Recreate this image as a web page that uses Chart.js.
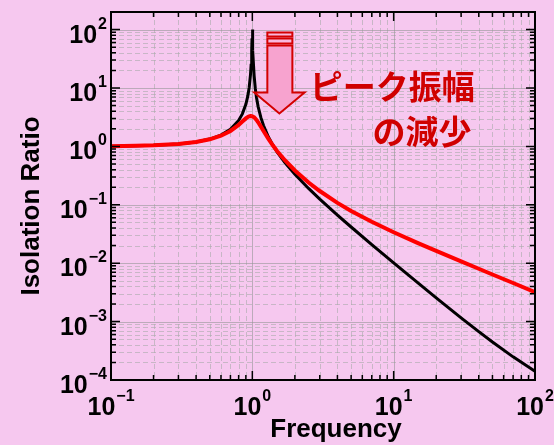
<!DOCTYPE html>
<html><head><meta charset="utf-8">
<script src="https://cdn.jsdelivr.net/npm/chart.js@4.4.0/dist/chart.umd.min.js"></script>
<style>html,body{margin:0;padding:0;background:#f6c8ef;}canvas{display:block}</style>
</head><body>
<canvas id="c" width="554" height="445"></canvas>
<script>
// ---- data ----
const frequency = [0.1,0.15,0.2,0.3,0.4,0.5,0.6,0.7,0.8,0.85,0.9,0.93,0.95,0.97,0.98,0.99,0.995,1,1.005,1.01,1.02,1.03,1.05,1.07,1.1,1.15,1.2,1.3,1.4,1.5,1.7,2,2.5,3,4,5,7,10,15,20,30,40,50,70,100];
const ratioLowDamping = [1.0101,1.023,1.0417,1.0989,1.1905,1.3333,1.5625,1.9608,2.7778,3.6036,5.263,7.40,10.21,16.70,24.5,45.0,71.0,100,70.4,44.5,24.0,16.19,9.71,6.90,4.76,3.10,2.273,1.449,1.042,0.800,0.529,0.3333,0.1905,0.125,0.0667,0.04167,0.02083,0.01015,0.004514,0.002556,0.001161,0.000674,0.000447,0.000249,0.0001414];
const ratioHighDamping = [1.0101,1.023,1.0415,1.0979,1.1865,1.3206,1.524,1.840,2.337,2.667,3.016,3.192,3.274,3.314,3.316,3.305,3.294,3.281,3.265,3.245,3.199,3.141,3.003,2.843,2.587,2.178,1.834,1.344,1.034,0.828,0.579,0.387,0.2411,0.1720,0.1079,0.0784,0.0511,0.0339,0.0219,0.0162,0.01074,0.00803,0.00641,0.00458,0.00320];
const xTickExponents = [-1,0,1,2];
const yTickExponents = [-4,-3,-2,-1,0,1,2];
const xAxisTitle = 'Frequency';
const yAxisTitle = 'Isolation Ratio';
const annotationLines = ['ピーク振幅','の減少'];

// ---- styles ----
const BG = '#f6c8ef';
const LATIN = '"Liberation Sans", Arial, sans-serif';
const CJK = '"Noto Sans CJK JP", sans-serif';

const bgPlugin = {
  id: 'bg',
  beforeDraw(chart) {
    const c = chart.ctx;
    c.save(); c.fillStyle = BG; c.fillRect(0, 0, chart.width, chart.height); c.restore();
  }
};

function decadeValues(minExp, maxExp, maxVal) {
  const out = [];
  for (let d = minExp; d <= maxExp; d++) {
    for (let m = 1; m <= 9; m++) {
      const v = m * Math.pow(10, d);
      if (v <= maxVal * 1.0001) out.push({ v, major: m === 1 });
    }
  }
  return out;
}

const gridPlugin = {
  id: 'logGrid',
  beforeDatasetsDraw(chart) {
    const c = chart.ctx, a = chart.chartArea, xs = chart.scales.x, ys = chart.scales.y;
    c.save();
    const xv = decadeValues(-1, 2, 100), yv = decadeValues(-4, 2, 200);
    for (const pass of [false, true]) {
      c.lineWidth = 1;
      c.strokeStyle = pass ? 'rgba(150,150,150,0.6)' : 'rgba(170,170,170,0.6)';
      c.setLineDash(pass ? [] : [5, 3]);
      for (const t of xv) {
        if (t.major !== pass) continue;
        const px = Math.round(xs.getPixelForValue(t.v)) + 0.5;
        c.beginPath(); c.moveTo(px, a.top); c.lineTo(px, a.bottom); c.stroke();
      }
      for (const t of yv) {
        if (t.major !== pass) continue;
        const py = Math.round(ys.getPixelForValue(t.v)) + 0.5;
        c.beginPath(); c.moveTo(a.left, py); c.lineTo(a.right, py); c.stroke();
      }
    }
    c.restore();
  }
};

function drawPow(c, exp, x, baseY, align) {
  const base = '10';
  const sup = exp < 0 ? '\u2212' + Math.abs(exp) : String(exp);
  c.font = 'bold 25px ' + LATIN;
  const wb = c.measureText(base).width;
  c.font = 'bold 16px ' + LATIN;
  const ws = c.measureText(sup).width;
  const total = wb + 1 + ws;
  const start = align === 'center' ? x - total / 2 : x - total;
  c.textAlign = 'left'; c.textBaseline = 'alphabetic'; c.fillStyle = '#000';
  c.font = 'bold 25px ' + LATIN;
  c.fillText(base, start, baseY);
  c.font = 'bold 16px ' + LATIN;
  c.fillText(sup, start + wb + 1, baseY - 14);
}

const framePlugin = {
  id: 'frame',
  afterDatasetsDraw(chart) {
    const c = chart.ctx, a = chart.chartArea, xs = chart.scales.x, ys = chart.scales.y;
    c.save();
    // ticks (inward, all four sides)
    c.strokeStyle = '#000'; c.lineWidth = 1.5; c.setLineDash([]);
    for (const t of decadeValues(-1, 2, 100)) {
      const px = xs.getPixelForValue(t.v), L = t.major ? 9 : 5;
      c.beginPath();
      c.moveTo(px, a.bottom); c.lineTo(px, a.bottom - L);
      c.moveTo(px, a.top); c.lineTo(px, a.top + L);
      c.stroke();
    }
    for (const t of decadeValues(-4, 2, 200)) {
      const py = ys.getPixelForValue(t.v), L = t.major ? 9 : 5;
      c.beginPath();
      c.moveTo(a.left, py); c.lineTo(a.left + L, py);
      c.moveTo(a.right, py); c.lineTo(a.right - L, py);
      c.stroke();
    }
    // box
    c.lineWidth = 2;
    c.strokeRect(a.left, a.top, a.right - a.left, a.bottom - a.top);

    // tick labels
    for (const e of xTickExponents) drawPow(c, e, xs.getPixelForValue(Math.pow(10, e)), 415, 'center');
    for (const e of yTickExponents) drawPow(c, e, 107, ys.getPixelForValue(Math.pow(10, e)) + 13, 'right');

    // axis titles
    c.fillStyle = '#000';
    c.font = 'bold 26px ' + LATIN;
    c.textAlign = 'center'; c.textBaseline = 'alphabetic';
    c.fillText(xAxisTitle, 336, 437);
    c.save();
    c.translate(39, 206); c.rotate(-Math.PI / 2);
    c.fillText(yAxisTitle, 0, 0);
    c.restore();

    // annotation arrow (anchored in data coordinates)
    const X = v => xs.getPixelForValue(v), Y = v => ys.getPixelForValue(v);
    const sL = X(1.277), sR = X(1.92), hL = X(1.033), hR = X(2.34), tip = X(1.554);
    c.strokeStyle = '#d40000'; c.lineWidth = 2; c.lineJoin = 'miter';
    const bar = (y1, y2) => { c.beginPath(); c.rect(sL, Y(y1), sR - sL, Y(y2) - Y(y1)); c.fillStyle = '#f9b8dc'; c.fill(); c.stroke(); };
    bar(88.9, 75.9);
    bar(70.2, 57.7);
    c.beginPath();
    c.moveTo(sL, Y(53.2)); c.lineTo(sR, Y(53.2)); c.lineTo(sR, Y(8.37)); c.lineTo(hR, Y(8.37));
    c.lineTo(tip, Y(3.66)); c.lineTo(hL, Y(8.37)); c.lineTo(sL, Y(8.37)); c.closePath();
    c.fillStyle = '#f7a3cf'; c.fill(); c.stroke();

    // annotation text
    c.fillStyle = '#d00000';
    c.font = 'bold 33px ' + CJK;
    c.textAlign = 'right'; c.textBaseline = 'middle';
    c.fillText(annotationLines[0], X(37.5), Y(10.6));
    c.fillText(annotationLines[1], X(35.5), Y(1.80));
    c.restore();
  }
};

new Chart(document.getElementById('c').getContext('2d'), {
  type: 'scatter',
  data: {
    datasets: [
      { label: 'damped', data: frequency.map((f, i) => ({ x: f, y: ratioHighDamping[i] })),
        showLine: true, borderColor: '#ff0000', borderWidth: 4, pointRadius: 0, tension: 0, order: 0 },
      { label: 'undamped', data: frequency.map((f, i) => ({ x: f, y: ratioLowDamping[i] })),
        showLine: true, borderColor: '#000000', borderWidth: 3, pointRadius: 0, tension: 0, order: 1 }
    ]
  },
  options: {
    responsive: false, animation: false, devicePixelRatio: 1,
    layout: { padding: { left: 111, top: 12, right: 19, bottom: 65 } },
    plugins: { legend: { display: false }, tooltip: { enabled: false } },
    scales: {
      x: { type: 'logarithmic', min: 0.1, max: 100, ticks: { display: false }, grid: { display: false, drawTicks: false }, border: { display: false } },
      y: { type: 'logarithmic', min: 1e-4, max: 200, ticks: { display: false }, grid: { display: false, drawTicks: false }, border: { display: false } }
    }
  },
  plugins: [bgPlugin, gridPlugin, framePlugin]
});
</script>
</body></html>
